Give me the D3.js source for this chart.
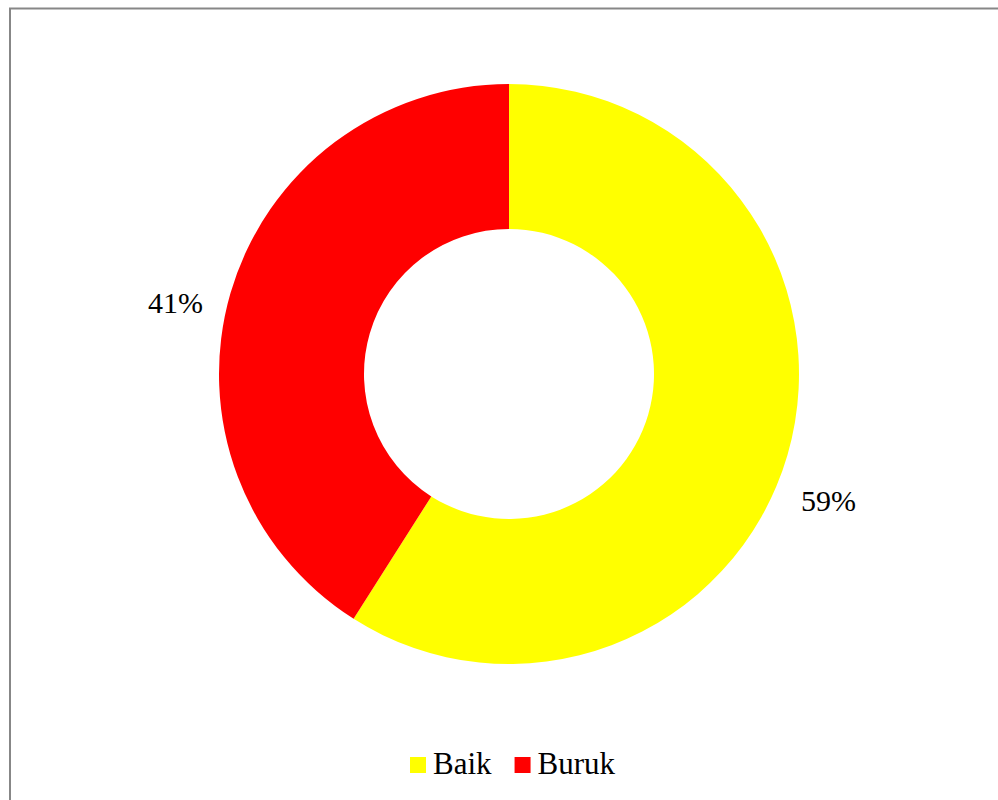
<!DOCTYPE html>
<html>
<head>
<meta charset="utf-8">
<script src="https://cdn.jsdelivr.net/npm/d3@7"></script>
<style>
  body { margin: 0; background: #fff; }
  svg { display: block; }
  text { font-family: "Liberation Serif", "Times New Roman", serif; fill: #000; }
</style>
</head>
<body>
<svg id="chart"></svg>
<script>
// data
const categories = ["Baik", "Buruk"];
const values = [59, 41];
const colors = ["#ffff00", "#ff0000"];

const width = 998, height = 800;
const cx = 509, cy = 374;
const outerR = 290, innerR = 145;

const svg = d3.select("#chart")
    .attr("width", width)
    .attr("height", height);

// chart border
svg.append("rect")
    .attr("x", 10)
    .attr("y", 8.5)
    .attr("width", width)
    .attr("height", height)
    .attr("fill", "none")
    .attr("stroke", "#878787")
    .attr("stroke-width", 2);

const data = categories.map((c, i) => ({ name: c, value: values[i], color: colors[i] }));

const pie = d3.pie()
    .value(d => d.value)
    .sort(null);

const arc = d3.arc()
    .innerRadius(innerR)
    .outerRadius(outerR);

// unit-radius arc, used for the direction of each label
const unitArc = d3.arc()
    .innerRadius(1)
    .outerRadius(1);

const g = svg.append("g")
    .attr("transform", `translate(${cx},${cy})`);

const arcs = pie(data);

g.selectAll(".slice")
    .data(arcs)
    .join("path")
    .attr("class", "slice")
    .attr("d", arc)
    .attr("fill", d => d.data.color);

// percentage labels outside the ring
g.selectAll(".pct")
    .data(arcs)
    .join("text")
    .attr("class", "pct")
    .attr("x", d => unitArc.centroid(d)[0] * 340 - 7)
    .attr("y", d => unitArc.centroid(d)[1] * 356 + 38)
    .attr("text-anchor", "middle")
    .attr("font-size", 30)
    .text(d => d.data.value + "%");

// legend
const legend = svg.append("g")
    .attr("transform", "translate(410,774)");

let xPos = 0;
data.forEach(d => {
    const item = legend.append("g").attr("transform", `translate(${xPos},0)`);
    item.append("rect")
        .attr("x", 0)
        .attr("y", -17)
        .attr("width", 16)
        .attr("height", 16)
        .attr("fill", d.color);
    const t = item.append("text")
        .attr("x", 23)
        .attr("y", 0)
        .attr("font-size", 31)
        .text(d.name);
    xPos += 23 + t.node().getComputedTextLength() + 23;
});
</script>
</body>
</html>
